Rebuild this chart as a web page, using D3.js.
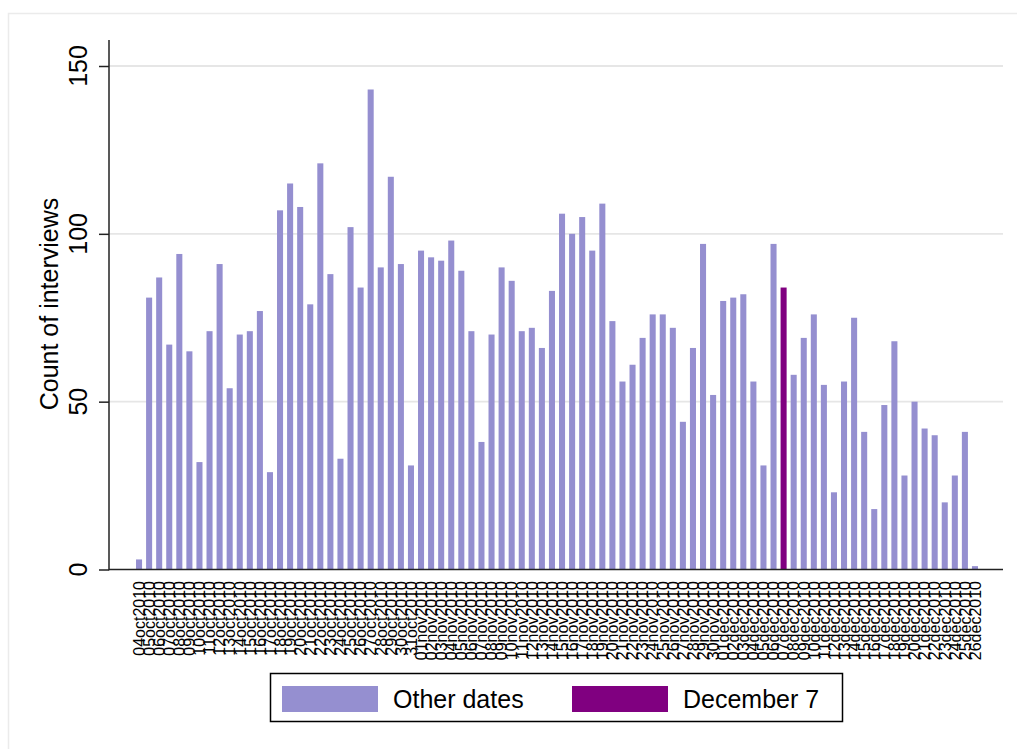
<!DOCTYPE html>
<html>
<head>
<meta charset="utf-8">
<script src="https://cdn.jsdelivr.net/npm/d3@7"></script>
<style>
  body { margin: 0; background: #fff; }
  svg { display: block; font-family: "Liberation Sans", Arial, sans-serif; }
</style>
</head>
<body>
<script>
"use strict";

// daily interview counts, 04oct2010 - 26dec2010
var dates = [
  '04oct2010', '05oct2010', '06oct2010', '07oct2010', '08oct2010', '09oct2010', '10oct2010',
  '11oct2010', '12oct2010', '13oct2010', '14oct2010', '15oct2010', '16oct2010', '17oct2010',
  '18oct2010', '19oct2010', '20oct2010', '21oct2010', '22oct2010', '23oct2010', '24oct2010',
  '25oct2010', '26oct2010', '27oct2010', '28oct2010', '29oct2010', '30oct2010', '31oct2010',
  '01nov2010', '02nov2010', '03nov2010', '04nov2010', '05nov2010', '06nov2010', '07nov2010',
  '08nov2010', '09nov2010', '10nov2010', '11nov2010', '12nov2010', '13nov2010', '14nov2010',
  '15nov2010', '16nov2010', '17nov2010', '18nov2010', '19nov2010', '20nov2010', '21nov2010',
  '22nov2010', '23nov2010', '24nov2010', '25nov2010', '26nov2010', '27nov2010', '28nov2010',
  '29nov2010', '30nov2010', '01dec2010', '02dec2010', '03dec2010', '04dec2010', '05dec2010',
  '06dec2010', '07dec2010', '08dec2010', '09dec2010', '10dec2010', '11dec2010', '12dec2010',
  '13dec2010', '14dec2010', '15dec2010', '16dec2010', '17dec2010', '18dec2010', '19dec2010',
  '20dec2010', '21dec2010', '22dec2010', '23dec2010', '24dec2010', '25dec2010', '26dec2010'
];

var counts = [
  3, 81, 87, 67, 94, 65, 32, 71, 91, 54, 70, 71, 77, 29,
  107, 115, 108, 79, 121, 88, 33, 102, 84, 143, 90, 117, 91, 31,
  95, 93, 92, 98, 89, 71, 38, 70, 90, 86, 71, 72, 66, 83,
  106, 100, 105, 95, 109, 74, 56, 61, 69, 76, 76, 72, 44, 66,
  97, 52, 80, 81, 82, 56, 31, 97, 84, 58, 69, 76, 55, 23,
  56, 75, 41, 18, 49, 68, 28, 50, 42, 40, 20, 28, 41, 1
];

var yTicks = [0, 50, 100, 150];
var highlight = '07dec2010';
var legendLabels = ['Other dates', 'December 7'];
var yTitle = 'Count of interviews';

var colors = { other: '#958fd0', highlight: '#800080' };

var data = dates.map((d, i) => ({ date: d, count: counts[i] }));

var width = 1017, height = 749,
  plot = { left: 109, right: 1003, top: 40, bottom: 569.5 };

var svg = d3.select('body').append('svg')
  .attr('width', width)
  .attr('height', height);

// faint outer frame
svg.append('rect')
  .attr('x', 8.5).attr('y', 13.5)
  .attr('width', width).attr('height', height)
  .attr('fill', 'none')
  .attr('stroke', '#ebebeb')
  .attr('stroke-width', 1.5);

var x = d3.scaleBand()
  .domain(dates)
  .range([134, 980])
  .paddingInner(0.4)
  .paddingOuter(0.2);

var y = d3.scaleLinear()
  .domain([0, 150])
  .range([plot.bottom, 66]);

// gridlines
svg.append('g')
  .selectAll('line')
  .data(yTicks.filter(t => t > 0))
  .join('line')
    .attr('x1', plot.left).attr('x2', plot.right)
    .attr('y1', d => y(d)).attr('y2', d => y(d))
    .attr('stroke', '#e6e6e6')
    .attr('stroke-width', 1.8);

// bars
svg.append('g')
  .selectAll('rect')
  .data(data)
  .join('rect')
    .attr('x', d => x(d.date))
    .attr('width', x.bandwidth())
    .attr('y', d => y(d.count))
    .attr('height', d => y(0) - y(d.count))
    .attr('fill', d => d.date === highlight ? colors.highlight : colors.other);

// y axis
var yAxis = svg.append('g')
  .attr('transform', `translate(${plot.left}, 0)`)
  .call(d3.axisLeft(y).tickValues(yTicks).tickSize(10).tickFormat(''));

yAxis.select('.domain').remove();
yAxis.selectAll('.tick line')
  .attr('stroke', '#222')
  .attr('stroke-width', 1.5);

svg.append('line')
  .attr('x1', plot.left).attr('x2', plot.left)
  .attr('y1', plot.top).attr('y2', plot.bottom + 0.75)
  .attr('stroke', '#222')
  .attr('stroke-width', 1.5);

svg.append('g')
  .selectAll('text')
  .data(yTicks)
  .join('text')
    .attr('transform', d => `translate(87, ${y(d)}) rotate(-90)`)
    .attr('text-anchor', 'middle')
    .attr('font-size', 25)
    .attr('fill', '#000')
    .text(d => d);

svg.append('text')
  .attr('transform', 'translate(58, 304) rotate(-90)')
  .attr('text-anchor', 'middle')
  .attr('font-size', 25)
  .attr('fill', '#000')
  .text(yTitle);

// x axis
svg.append('line')
  .attr('x1', plot.left).attr('x2', plot.right)
  .attr('y1', plot.bottom).attr('y2', plot.bottom)
  .attr('stroke', '#222')
  .attr('stroke-width', 1.5);

svg.append('g')
  .selectAll('text')
  .data(dates)
  .join('text')
    .attr('transform', d =>
      `translate(${x(d) + x.bandwidth() / 2 + 5.8}, 581) rotate(-90)`)
    .attr('text-anchor', 'end')
    .attr('font-size', 16)
    .attr('fill', '#000')
    .text(d => d);

// legend
var legend = svg.append('g');

legend.append('rect')
  .attr('x', 270.5).attr('y', 673.5)
  .attr('width', 572).attr('height', 48)
  .attr('fill', '#fff')
  .attr('stroke', '#000')
  .attr('stroke-width', 1.5);

var legendItems = [
  { label: legendLabels[0], color: colors.other, x: 282 },
  { label: legendLabels[1], color: colors.highlight, x: 572 }
];

var item = legend.selectAll('.item')
  .data(legendItems)
  .join('g')
    .attr('class', 'item')
    .attr('transform', d => `translate(${d.x}, 686)`);

item.append('rect')
  .attr('width', 96)
  .attr('height', 26)
  .attr('fill', d => d.color);

item.append('text')
  .attr('x', 111)
  .attr('y', 22)
  .attr('font-size', 25)
  .attr('fill', '#000')
  .text(d => d.label);
</script>
</body>
</html>
